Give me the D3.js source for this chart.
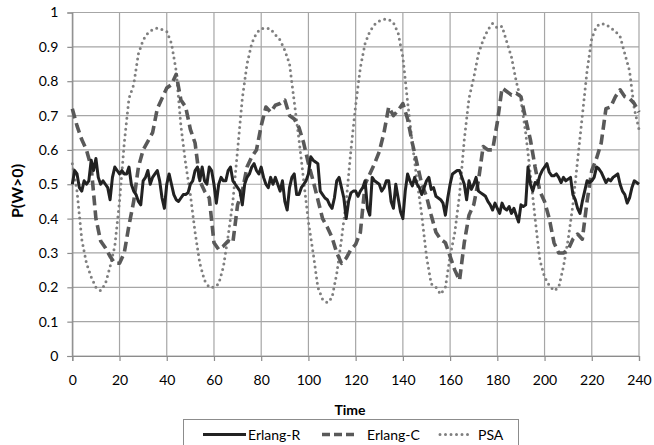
<!DOCTYPE html>
<html><head><meta charset="utf-8">
<script src="https://cdn.jsdelivr.net/npm/d3@7"></script>
<style>
html,body{margin:0;padding:0;background:#fff;}
text{font-family:Lato,"Open Sans",sans-serif;fill:#000;}
</style></head>
<body><svg id="chart" width="654" height="445"></svg>
<script>
// ---------- DATA ----------
const seriesNames = ["Erlang-R", "Erlang-C", "PSA"];
const xTickValues = [0,20,40,60,80,100,120,140,160,180,200,220,240];
const yTickValues = [0,0.1,0.2,0.3,0.4,0.5,0.6,0.7,0.8,0.9,1];

// Erlang-R sampled each time unit (t = 0..240)
const erlangRTimes = d3.range(0, 241, 1);
const erlangR = [
0.50,0.54,0.53,0.49,0.48,0.51,0.50,0.51,0.57,0.54,
0.575,0.52,0.50,0.51,0.50,0.49,0.455,0.52,0.55,0.54,
0.53,0.54,0.53,0.53,0.55,0.50,0.48,0.47,0.45,0.44,
0.51,0.52,0.54,0.50,0.52,0.53,0.54,0.51,0.46,0.43,
0.50,0.53,0.50,0.47,0.455,0.45,0.46,0.47,0.47,0.475,
0.50,0.51,0.54,0.55,0.51,0.55,0.51,0.50,0.55,0.54,
0.50,0.445,0.50,0.52,0.51,0.51,0.54,0.55,0.51,0.50,
0.49,0.48,0.44,0.50,0.52,0.53,0.55,0.56,0.54,0.53,
0.55,0.52,0.50,0.49,0.52,0.50,0.52,0.50,0.48,0.51,
0.45,0.425,0.49,0.52,0.53,0.47,0.47,0.49,0.50,0.51,
0.53,0.58,0.57,0.565,0.56,0.48,0.47,0.46,0.455,0.44,
0.43,0.46,0.51,0.52,0.49,0.46,0.40,0.45,0.475,0.48,
0.48,0.465,0.48,0.49,0.51,0.43,0.41,0.52,0.51,0.505,
0.50,0.48,0.49,0.51,0.51,0.45,0.43,0.50,0.46,0.42,
0.40,0.48,0.53,0.51,0.495,0.52,0.50,0.49,0.47,0.49,
0.51,0.52,0.485,0.49,0.465,0.46,0.455,0.445,0.41,0.46,
0.50,0.53,0.535,0.54,0.54,0.52,0.50,0.455,0.51,0.485,
0.50,0.52,0.48,0.475,0.47,0.465,0.45,0.44,0.425,0.445,
0.43,0.415,0.445,0.43,0.425,0.435,0.415,0.43,0.41,0.39,
0.44,0.435,0.44,0.55,0.50,0.48,0.505,0.50,0.525,0.54,
0.55,0.56,0.535,0.525,0.525,0.53,0.52,0.505,0.52,0.51,
0.515,0.52,0.47,0.455,0.43,0.415,0.45,0.48,0.51,0.505,
0.51,0.52,0.55,0.545,0.535,0.52,0.505,0.515,0.51,0.52,
0.525,0.53,0.50,0.48,0.47,0.445,0.46,0.49,0.51,0.505,
0.50
];

// Erlang-C and PSA sampled every 2 time units (t = 0..240)
const twoStepTimes = d3.range(0, 241, 2);
const erlangC = [
0.72,0.67,0.63,0.60,0.55,0.40,0.335,0.315,0.29,0.27,
0.27,0.30,0.38,0.45,0.55,0.60,0.625,0.65,0.72,0.75,
0.78,0.79,0.82,0.745,0.725,0.66,0.62,0.51,0.48,0.46,
0.33,0.31,0.32,0.335,0.33,0.44,0.48,0.55,0.58,0.60,
0.67,0.725,0.71,0.73,0.735,0.745,0.70,0.69,0.665,0.62,
0.56,0.51,0.455,0.40,0.375,0.345,0.30,0.27,0.285,0.31,
0.325,0.36,0.50,0.53,0.56,0.595,0.65,0.725,0.70,0.715,
0.735,0.69,0.62,0.56,0.50,0.465,0.41,0.36,0.34,0.33,
0.29,0.25,0.22,0.33,0.41,0.44,0.51,0.61,0.60,0.60,
0.68,0.78,0.77,0.76,0.765,0.755,0.69,0.63,0.55,0.48,
0.45,0.40,0.33,0.30,0.30,0.31,0.34,0.355,0.34,0.45,
0.54,0.575,0.62,0.72,0.725,0.755,0.775,0.755,0.75,0.735,
0.71
];
const psa = [
0.56,0.48,0.34,0.27,0.23,0.20,0.19,0.21,0.26,0.32,
0.45,0.62,0.75,0.79,0.88,0.92,0.94,0.95,0.955,0.95,
0.945,0.91,0.83,0.67,0.56,0.47,0.36,0.27,0.22,0.20,
0.20,0.21,0.26,0.35,0.45,0.60,0.75,0.85,0.91,0.94,
0.953,0.955,0.952,0.935,0.92,0.89,0.85,0.74,0.63,0.51,
0.39,0.30,0.20,0.165,0.155,0.17,0.24,0.34,0.45,0.60,
0.73,0.84,0.91,0.945,0.965,0.975,0.98,0.98,0.97,0.94,
0.87,0.74,0.62,0.51,0.41,0.29,0.21,0.20,0.18,0.20,
0.29,0.36,0.47,0.63,0.75,0.81,0.88,0.92,0.95,0.968,
0.955,0.96,0.915,0.87,0.80,0.745,0.65,0.53,0.40,0.28,
0.23,0.205,0.19,0.20,0.26,0.34,0.44,0.57,0.70,0.83,
0.925,0.96,0.968,0.965,0.955,0.945,0.93,0.88,0.83,0.72,
0.66
];

// ---------- CHART ----------
const svg = d3.select("#chart");
const mLeft = 72.3, mRight = 639, mTop = 12.5, mBottom = 356;
const x = d3.scaleLinear().domain([0, 240]).range([mLeft, mRight]);
const y = d3.scaleLinear().domain([0, 1]).range([mBottom, mTop]);
const gridColor = "#a6a6a6";

// gridlines
svg.append("g").selectAll("line").data(yTickValues).join("line")
  .attr("x1", mLeft).attr("x2", mRight)
  .attr("y1", d => y(d)).attr("y2", d => y(d))
  .attr("stroke", gridColor).attr("stroke-width", 1.2);
svg.append("g").selectAll("line").data(xTickValues).join("line")
  .attr("x1", d => x(d)).attr("x2", d => x(d))
  .attr("y1", mTop).attr("y2", mBottom)
  .attr("stroke", gridColor).attr("stroke-width", 1.2);

// axes
const fmt = d => String(+d.toFixed(1));
const yAxis = svg.append("g").attr("transform", `translate(${mLeft},0)`)
  .call(d3.axisLeft(y).tickValues(yTickValues).tickFormat(fmt).tickSize(5).tickPadding(9));
const xAxis = svg.append("g").attr("transform", `translate(0,${mBottom})`)
  .call(d3.axisBottom(x).tickValues(xTickValues).tickFormat(fmt).tickSize(5).tickPadding(14));
[xAxis, yAxis].forEach(a => {
  a.select(".domain").attr("stroke", "#8c8c8c").attr("stroke-width", 1.2);
  a.selectAll(".tick line").attr("stroke", "#8c8c8c").attr("stroke-width", 1.2);
  a.selectAll("text").style("font-size", "14px").style("font-family", "Lato, 'Open Sans', sans-serif").attr("fill", "#000");
});

// series
const lineR = d3.line().x((d, i) => x(erlangRTimes[i])).y(d => y(d));
const line2 = d3.line().x((d, i) => x(twoStepTimes[i])).y(d => y(d));

svg.append("path").datum(psa).attr("d", line2)
  .attr("fill", "none").attr("stroke", "#7f7f7f").attr("stroke-width", 3)
  .attr("stroke-dasharray", "0,5.5").attr("stroke-linecap", "round");
svg.append("path").datum(erlangC).attr("d", line2)
  .attr("fill", "none").attr("stroke", "#595959").attr("stroke-width", 3.6)
  .attr("stroke-dasharray", "10,5").attr("stroke-linejoin", "round");
svg.append("path").datum(erlangR).attr("d", lineR)
  .attr("fill", "none").attr("stroke", "#222").attr("stroke-width", 3)
  .attr("stroke-linejoin", "round");

// axis titles
svg.append("text").attr("x", 350).attr("y", 409).attr("text-anchor", "middle")
  .attr("dominant-baseline", "central").style("font-size", "14px").style("font-weight", "bold").text("Time");
svg.append("text").attr("transform", "translate(16,191) rotate(-90)").attr("text-anchor", "middle")
  .attr("dominant-baseline", "central").style("font-size", "16px").style("font-weight", "bold").text("P(W>0)");

// legend
const lg = svg.append("g");
lg.append("rect").attr("x", 183.5).attr("y", 419.5).attr("width", 335).attr("height", 40)
  .attr("fill", "#fff").attr("stroke", "#8c8c8c").attr("stroke-width", 1);
const legendItems = [
  {name: seriesNames[0], x0: 203, x1: 246, tx: 248, stroke: "#222", w: 3, dash: null, cap: "butt"},
  {name: seriesNames[1], x0: 322, x1: 355, tx: 367, stroke: "#595959", w: 3.6, dash: "8,4", cap: "butt"},
  {name: seriesNames[2], x0: 440, x1: 470, tx: 478, stroke: "#7f7f7f", w: 3, dash: "0,5.5", cap: "round"}
];
legendItems.forEach(it => {
  lg.append("line").attr("x1", it.x0).attr("x2", it.x1).attr("y1", 434.5).attr("y2", 434.5)
    .attr("stroke", it.stroke).attr("stroke-width", it.w)
    .attr("stroke-dasharray", it.dash).attr("stroke-linecap", it.cap);
  lg.append("text").attr("x", it.tx).attr("y", 434.5).attr("dominant-baseline", "central")
    .style("font-size", "14px").text(it.name);
});
</script></body></html>
